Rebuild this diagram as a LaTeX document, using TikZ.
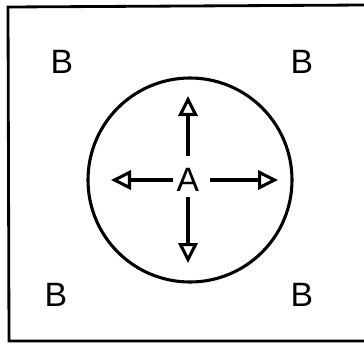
\documentclass[tikz,border=0pt]{standalone}
\usepackage{fontspec}
\setmainfont{Liberation Sans}
\usetikzlibrary{arrows.meta}
\begin{document}
\begin{tikzpicture}[x=0.25mm,y=-0.25mm,
        lbl/.style={inner sep=0pt,font=\fontsize{24}{28}\selectfont},
        spread/.style={line width=2.2pt,-{Triangle[open,length=5mm,width=4.8mm,line width=2.2pt]}}]
        \useasboundingbox (0,0) rectangle (364,343);
        \draw[line width=2pt] (364,5)--(8,7)--(9,341)--(364,341);
        \node[circle,draw,line width=2.2pt,minimum size=51mm,inner sep=0pt] (disc) at (190,180) {};
        \node[lbl] (A) at (188,180) {A};
        \node[lbl] (B1) at (62,62) {B};
        \node[lbl] (B2) at (302,62) {B};
        \node[lbl] (B3) at (56,295) {B};
        \node[lbl] (B4) at (302,295) {B};
        \coordinate (tipN) at (188,96);
        \coordinate (tipS) at (188,263);
        \coordinate (tipW) at (111,180);
        \coordinate (tipE) at (278,180);
        \draw[spread,shorten <=3mm] (A)--(tipN);
        \draw[spread,shorten <=1.2mm] (A)--(tipS);
        \draw[spread,shorten <=0.8mm] (A)--(tipW);
        \draw[spread,shorten <=2.6mm] (A)--(tipE);
        \end{tikzpicture}
\end{document}
